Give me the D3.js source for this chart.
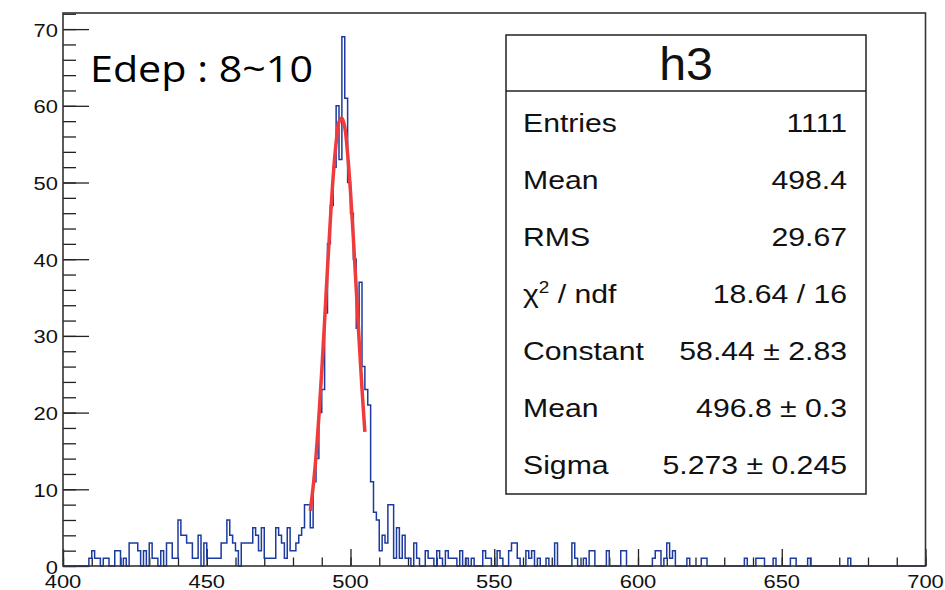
<!DOCTYPE html>
<html>
<head>
<meta charset="utf-8">
<title>h3</title>
<script src="https://d3js.org/d3.v7.min.js"></script>
<style>
body{margin:0;background:#fff}
text{font-family:"Liberation Sans",Arial,sans-serif;fill:#111}
</style>
</head>
<body>
<svg width="945" height="590"></svg>
<script>
// histogram h3 : 300 bins of width 1 from 400 to 700
var binLow = 400, binWidth = 1;
var counts = [
  0,0,0,0,0,0,0,0,0,1, 2,1,1,0,1,1,0,0,2,2,   // 400-419
  0,1,0,3,3,3,2,0,2,0, 3,1,1,0,2,0,3,3,1,1,   // 420-439
  6,4,4,3,3,1,1,4,0,3, 1,1,1,1,1,3,3,6,4,3,   // 440-459
  2,0,3,3,3,3,5,4,2,5, 1,1,1,1,5,4,3,1,5,2,   // 460-479
  2,3,4,5,8,8,5,11,14,20, 23,33,42,47,52,60,53,69,61,50, // 480-499
  46,40,31,37,26,23,21,11,7,6, 2,4,3,8,8,1,5,1,4,1,      // 500-519
  1,0,3,1,0,0,2,1,1,0, 2,1,0,2,1,1,1,0,2,0,   // 520-539
  1,0,1,0,0,0,2,1,1,0, 0,2,1,0,0,2,3,3,1,0,   // 540-559
  0,2,1,2,0,1,0,0,1,0, 0,3,0,0,0,0,0,3,1,0,   // 560-579
  0,1,0,2,2,0,0,0,0,2, 0,0,0,0,2,2,0,0,0,0,   // 580-599
  0,0,0,0,0,1,2,2,0,1, 3,1,2,0,0,0,0,1,0,0,   // 600-619
  0,0,1,1,0,0,0,0,0,0, 0,0,0,0,0,0,0,1,0,0,   // 620-639
  0,1,1,1,0,0,0,1,0,0, 0,0,0,1,1,0,0,0,0,1,   // 640-659
  0,0,0,0,0,0,0,0,0,0, 0,0,0,1,0,0,0,0,0,0,   // 660-679
  0,0,0,0,0,0,0,0,0,0, 0,0,0,0,0,0,0,0,0,0    // 680-699
];

// gaussian fit curve
var fitX = [486,487,488,489,490,491,492,493,494,495,496,497,498,499,500,501,502,503,504,505];
var fitY = [7.2,10.3,14.3,19.4,25.4,32.0,38.8,45.2,50.9,55.2,57.9,58.4,57.2,53.7,48.8,42.7,36.1,29.4,23.1,17.5];

var xLabels = [400,450,500,550,600,650,700];
var yLabels = [0,10,20,30,40,50,60,70];

var statTitle = "h3";
var statNames = ["Entries","Mean","RMS","chi2","Constant","Mean","Sigma"];
var statValues = ["1111","498.4","29.67","18.64 / 16","58.44 \u00b1 2.83","496.8 \u00b1 0.3","5.273 \u00b1 0.245"];

var svg = d3.select("svg"),
    frame = {left: 63, right: 925.5, top: 13, bottom: 566},
    sx = 1.18;   // the picture is stretched sideways

var x = d3.scaleLinear().domain([400, 700]).range([frame.left, frame.right]);
var y = d3.scaleLinear().domain([0, 72.1]).range([frame.bottom, frame.top]);

// axis ticks, ROOT style (pointing inwards)
function ticks(axis, vals, len, tr){
  var g = svg.append("g").attr("transform", tr)
    .call(axis.tickValues(vals).tickSize(len).tickFormat(""));
  g.select(".domain").remove();
  g.selectAll("line").attr("stroke","#222").attr("stroke-width",1.3);
}
ticks(d3.axisTop(x), d3.range(400, 701, 10), 8.5, `translate(0,${frame.bottom})`);
ticks(d3.axisTop(x), xLabels, 17, `translate(0,${frame.bottom})`);
ticks(d3.axisRight(y), d3.range(0, 72.1, 2), 13, `translate(${frame.left},0)`);
ticks(d3.axisRight(y), yLabels, 26, `translate(${frame.left},0)`);

// histogram
var pts = counts.map((c,i) => [binLow + i*binWidth, c]);
pts.push([binLow + counts.length*binWidth, counts[counts.length-1]]);
svg.append("path")
  .datum(pts)
  .attr("fill","none")
  .attr("stroke","#1d3b9e")
  .attr("stroke-width",1.5)
  .attr("d", d3.line().x(d=>x(d[0])).y(d=>y(d[1])).curve(d3.curveStepAfter));

// fit
svg.append("path")
  .datum(fitX.map((v,i)=>[v, fitY[i]]))
  .attr("fill","none")
  .attr("stroke","#ef3b3b")
  .attr("stroke-width",3.5)
  .attr("d", d3.line().x(d=>x(d[0])).y(d=>y(d[1])).curve(d3.curveCatmullRom));

// frame
svg.append("rect")
  .attr("x",frame.left).attr("y",frame.top)
  .attr("width",frame.right-frame.left).attr("height",frame.bottom-frame.top)
  .attr("fill","none").attr("stroke","#333").attr("stroke-width",1.6);

// stretched text helper
function label(px, py, txt, size, anchor, k){
  return svg.append("g")
    .attr("transform",`translate(${px},${py}) scale(${k},1)`)
    .append("text")
      .attr("text-anchor",anchor)
      .style("font-size",size+"px")
      .text(txt);
}

xLabels.forEach(v => label(x(v), 588, v, 18.6, "middle", sx));
yLabels.forEach(v => label(58, y(v)+7.5, v, 18.6, "end", sx));

// annotation
svg.append("text")
  .attr("x",90).attr("y",81.7)
  .attr("textLength",223).attr("lengthAdjust","spacingAndGlyphs")
  .style("font-family",'"Open Sans",sans-serif')
  .style("font-size","37px")
  .style("fill","#000")
  .text("Edep : 8~10");

// stats box
var box = {x: 506, y: 35, w: 360, h: 459, head: 56};
svg.append("rect")
  .attr("x",box.x).attr("y",box.y).attr("width",box.w).attr("height",box.h)
  .attr("fill","#fff").attr("stroke","#222").attr("stroke-width",1.5);
svg.append("line")
  .attr("x1",box.x).attr("x2",box.x+box.w)
  .attr("y1",box.y+box.head).attr("y2",box.y+box.head)
  .attr("stroke","#222").attr("stroke-width",1.5);
label(box.x+box.w/2, 80, statTitle, 46, "middle", 1.05);

statNames.forEach((n,i) => {
  var by = 131.5 + i*57;
  if(n === "chi2"){
    var t = label(523, by, "", 25.6, "start", sx);
    t.append("tspan").text("\u03c7");
    t.append("tspan").attr("dy",-10).style("font-size","16px").text("2");
    t.append("tspan").attr("dy",10).text(" / ndf");
  } else {
    label(523, by, n, 25.6, "start", sx);
  }
  label(847, by, statValues[i], 25.6, "end", sx);
});
</script>
</body>
</html>
